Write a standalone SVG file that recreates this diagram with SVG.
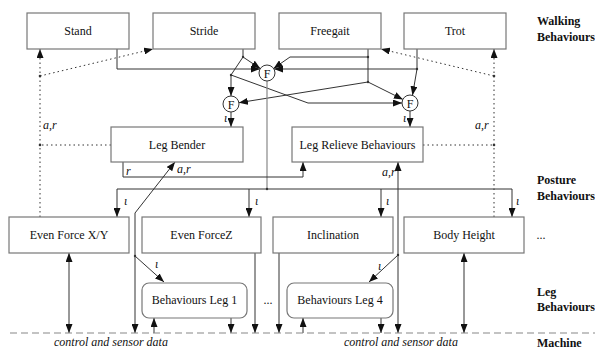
<svg xmlns="http://www.w3.org/2000/svg" width="595" height="349" viewBox="0 0 595 349">
<style>
.box{fill:#fff;stroke:#777;stroke-width:1.2}
.t{font-family:"Liberation Serif",serif;font-size:12px;fill:#111;text-anchor:middle}
.it{font-family:"Liberation Serif",serif;font-size:12px;font-style:italic;fill:#111}
.lbl{font-family:"Liberation Serif",serif;font-size:12px;font-weight:bold;fill:#111}
.ln{fill:none;stroke:#333;stroke-width:1}
.gl{fill:none;stroke:#888;stroke-width:1.2}
.dot{fill:none;stroke:#333;stroke-width:1;stroke-dasharray:1.5,3}
.arr{marker-end:url(#ah)}
.bi{marker-start:url(#ah);marker-end:url(#ah)}
.jn{fill:#333}
</style>
<defs>
<marker id="ah" markerUnits="userSpaceOnUse" markerWidth="9" markerHeight="7" refX="9" refY="3.5" orient="auto-start-reverse">
<path d="M0,0 L9,3.5 L0,7 z" fill="#111"/>
</marker>
</defs>
<rect width="595" height="349" fill="#fff"/>

<g id="layer-labels">
<text class="lbl" x="537" y="25">Walking</text>
<text class="lbl" x="537" y="41">Behaviours</text>
<text class="lbl" x="537" y="184">Posture</text>
<text class="lbl" x="537" y="200">Behaviours</text>
<text class="lbl" x="537" y="296">Leg</text>
<text class="lbl" x="537" y="311">Behaviours</text>
<text class="lbl" x="537" y="347">Machine</text>
</g>

<g id="connectors">
<path class="dot arr" d="M40,217 V49"/>
<path class="dot arr" d="M40,76 L153,49"/>
<path class="dot" d="M111,145 H40"/>
<path class="dot arr" d="M494,217 V49"/>
<path class="dot arr" d="M494,76 L381,49"/>
<path class="dot" d="M423,145 H494"/>
<circle class="jn" cx="40" cy="76" r="1.3"/>
<circle class="jn" cx="40" cy="145" r="1.3"/>
<circle class="jn" cx="494" cy="76" r="1.3"/>
<circle class="jn" cx="494" cy="145" r="1.3"/>

<path class="ln arr" d="M117,49 V69 H260"/>
<path class="ln arr" d="M417,49 V69 H274"/>
<path class="ln arr" d="M417,69 L412.5,95.2"/>
<path class="ln arr" d="M243,49 V57 L260.3,68.6"/>
<path class="ln arr" d="M243,57 L231,75 V96"/>
<path class="ln arr" d="M231,75 L308,103 H402"/>
<path class="ln" d="M368,49 V82"/>
<path class="ln arr" d="M368,57 H290 L273.6,68.4"/>
<path class="ln arr" d="M368,82 L238.9,102.7"/>
<path class="ln arr" d="M368,82 L402.9,99.4"/>
<path class="ln arr" d="M231,112 V127"/>
<path class="ln arr" d="M410,111 V127"/>
<path class="gl" d="M267,81 V189"/>
<path class="ln" d="M117,189 H512"/>
<path class="ln arr" d="M117,189 V217"/>
<path class="ln arr" d="M249,189 V217"/>
<path class="ln arr" d="M381,189 V217"/>
<path class="ln arr" d="M512,189 V217"/>
<path class="ln arr" d="M123,162 V177 H303 V162"/>
<path class="ln arr" d="M135,213 V333"/>
<path class="ln arr" d="M135,213 L175,162"/>
<path class="ln arr" d="M135,256 L164,282"/>
<path class="ln bi" d="M398,162 V333"/>
<path class="ln arr" d="M398,255 L369,282"/>
<path class="ln bi" d="M69,253 V333"/>
<path class="ln arr" d="M154,333 V318"/>
<path class="ln arr" d="M231,318 V333"/>
<path class="ln arr" d="M255,253 V333"/>
<path class="ln arr" d="M279,253 V333"/>
<path class="ln arr" d="M303,333 V318"/>
<path class="ln arr" d="M381,318 V333"/>
<path class="ln bi" d="M464,253 V333"/>
<circle class="jn" cx="243" cy="57" r="1.2"/>
<circle class="jn" cx="231" cy="75" r="1.2"/>
<circle class="jn" cx="368" cy="57" r="1.2"/>
<circle class="jn" cx="368" cy="82" r="1.2"/>
<circle class="jn" cx="417" cy="69" r="1.2"/>
<circle class="jn" cx="267" cy="189" r="1.2"/>
<circle class="jn" cx="135" cy="256" r="1.2"/>
<circle class="jn" cx="398" cy="255" r="1.2"/>

<text class="it" x="224" y="122">ι</text>
<text class="it" x="403" y="122">ι</text>
<text class="it" x="124" y="205">ι</text>
<text class="it" x="255" y="205">ι</text>
<text class="it" x="386" y="205">ι</text>
<text class="it" x="516" y="205">ι</text>
<text class="it" x="155" y="268">ι</text>
<text class="it" x="378" y="270">ι</text>
<text class="it" x="43" y="129">a,r</text>
<text class="it" x="475" y="129">a,r</text>
<text class="it" x="177" y="173">a,r</text>
<text class="it" x="126" y="175">r</text>
<text class="it" x="382" y="176">a,r</text>
<path d="M10,333 H595" fill="none" stroke="#888" stroke-width="1.2" stroke-dasharray="7,4"/>
<text class="it" x="111" y="346" text-anchor="middle">control and sensor data</text>
<text class="it" x="401" y="346" text-anchor="middle">control and sensor data</text>
</g>

<g id="stand"><rect class="box" x="27" y="13" width="102" height="36"/><text class="t" x="78" y="35">Stand</text></g>
<g id="stride"><rect class="box" x="153" y="13" width="102" height="36"/><text class="t" x="204" y="35">Stride</text></g>
<g id="freegait"><rect class="box" x="279" y="13" width="102" height="36"/><text class="t" x="330" y="35">Freegait</text></g>
<g id="trot"><rect class="box" x="404" y="13" width="102" height="36"/><text class="t" x="455" y="35">Trot</text></g>

<g id="f1"><circle cx="267" cy="73" r="8" fill="#fff" stroke="#333"/><text class="t" x="267" y="77.5">F</text></g>
<g id="f2"><circle cx="231" cy="104" r="8" fill="#fff" stroke="#333"/><text class="t" x="231" y="108.5">F</text></g>
<g id="f3"><circle cx="410" cy="103" r="8" fill="#fff" stroke="#333"/><text class="t" x="410" y="107.5">F</text></g>

<g id="leg-bender"><rect class="box" x="111" y="127" width="132" height="35"/><text class="t" x="177" y="149">Leg Bender</text></g>
<g id="leg-relieve"><rect class="box" x="292" y="127" width="131" height="35"/><text class="t" x="357.5" y="149">Leg Relieve Behaviours</text></g>

<g id="even-force-xy"><rect class="box" x="9" y="217" width="120" height="36"/><text class="t" x="69" y="239">Even Force X/Y</text></g>
<g id="even-force-z"><rect class="box" x="142" y="217" width="119" height="36"/><text class="t" x="201.5" y="239">Even ForceZ</text></g>
<g id="inclination"><rect class="box" x="273" y="217" width="120" height="36"/><text class="t" x="333" y="239">Inclination</text></g>
<g id="body-height"><rect class="box" x="404" y="217" width="120" height="36"/><text class="t" x="464" y="239">Body Height</text></g>
<g id="posture-more"><text class="t" x="541" y="239">...</text></g>

<g id="leg1"><rect class="box" x="142" y="283" width="105" height="35" rx="7"/><text class="t" x="194.5" y="304">Behaviours Leg 1</text></g>
<g id="leg-more"><text class="t" x="268" y="304">...</text></g>
<g id="leg4"><rect class="box" x="287" y="283" width="106" height="35" rx="7"/><text class="t" x="340" y="304">Behaviours Leg 4</text></g>
</svg>
